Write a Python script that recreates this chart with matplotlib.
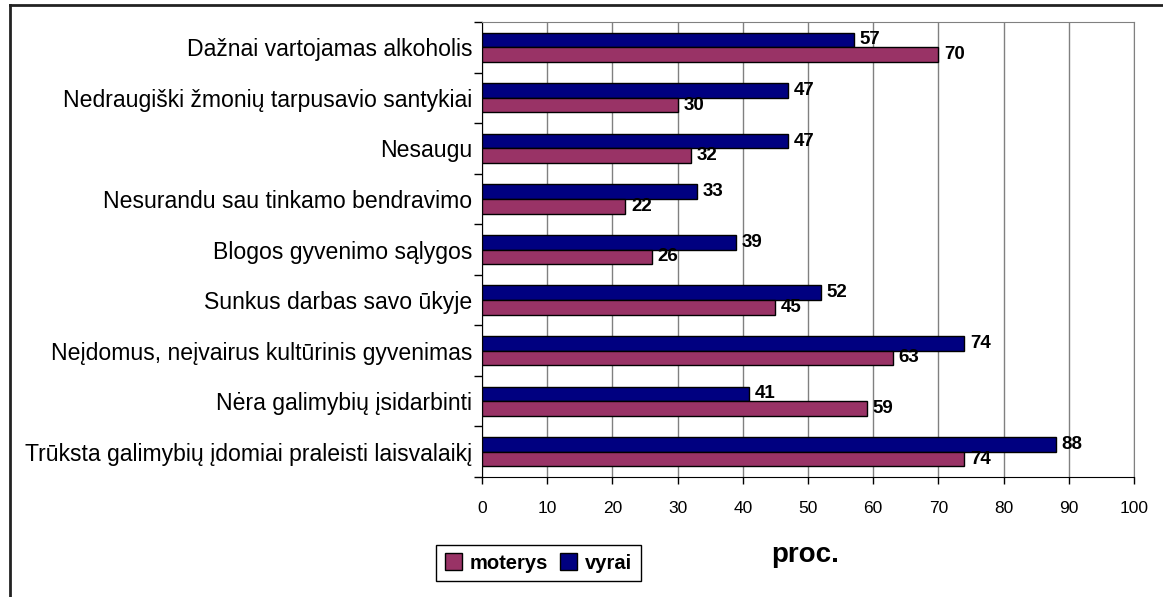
import numpy as np
import matplotlib
matplotlib.use("Agg")
import matplotlib.pyplot as plt
from matplotlib.lines import Line2D

categories = [
    "Dažnai vartojamas alkoholis",
    "Nedraugiški žmonių tarpusavio santykiai",
    "Nesaugu",
    "Nesurandu sau tinkamo bendravimo",
    "Blogos gyvenimo sąlygos",
    "Sunkus darbas savo ūkyje",
    "Neįdomus, neįvairus kultūrinis gyvenimas",
    "Nėra galimybių įsidarbinti",
    "Trūksta galimybių įdomiai praleisti laisvalaikį",
]
vyrai = [57, 47, 47, 33, 39, 52, 74, 41, 88]
moterys = [70, 30, 32, 22, 26, 45, 63, 59, 74]

plt.rcParams["font.family"] = ["Liberation Sans", "DejaVu Sans"]

fig = plt.figure(figsize=(11.63, 5.97), dpi=100)
ax = fig.add_axes([482 / 1163, 1 - 477 / 597, (1134 - 482) / 1163, (477 - 22) / 597])

y = np.arange(len(categories))
h = 0.29
b_v = ax.barh(y - h / 2, vyrai, height=h, color="#000080", edgecolor="black", linewidth=1, label="vyrai", zorder=3)
b_m = ax.barh(y + h / 2, moterys, height=h, color="#993366", edgecolor="black", linewidth=1, label="moterys", zorder=3)

ax.bar_label(b_v, fmt="%d", padding=4, fontsize=13.5, fontweight="bold")
ax.bar_label(b_m, fmt="%d", padding=4, fontsize=13.5, fontweight="bold")

ax.set_xlim(0, 100)
ax.set_ylim(len(categories) - 0.5, -0.5)
ax.set_xticks(np.arange(0, 101, 10))
ax.tick_params(axis="x", labelsize=12.5, length=5, width=1, color="black", pad=12)

# category labels centred, tick marks between categories
ax.set_yticks(y)
ax.set_yticklabels(categories, fontsize=16.6)
ax.tick_params(axis="y", which="major", length=0, pad=7)
ax.set_yticks(np.arange(-0.5, len(categories), 1), minor=True)
ax.tick_params(axis="y", which="minor", length=6, width=1, color="black")

ax.xaxis.grid(True, color="#808080", linewidth=1, zorder=0)
ax.set_axisbelow(True)
ax.spines["left"].set_color("black")
ax.spines["bottom"].set_color("black")
ax.spines["top"].set_color("#808080")
ax.spines["right"].set_color("#808080")

handles = [b_m, b_v]
leg = fig.legend(handles, ["moterys", "vyrai"], loc="center", bbox_to_anchor=(538.5 / 1163, 1 - 563 / 597),
                 ncol=2, fancybox=False, edgecolor="black", framealpha=1,
                 prop={"size": 14.5, "weight": "bold"},
                 handlelength=0.85, handleheight=0.85, handletextpad=0.4, columnspacing=0.6, borderpad=0.4)
leg.get_frame().set_linewidth(1)

fig.text(805 / 1163, 1 - 555 / 597, "proc.", fontsize=20, fontweight="bold", ha="center", va="center")

# outer chart frame
fig.add_artist(Line2D([10 / 1163, 10 / 1163], [0, 1 - 5 / 597], transform=fig.transFigure, color="#222222", linewidth=2))
fig.add_artist(Line2D([10 / 1163, 1], [1 - 5 / 597, 1 - 5 / 597], transform=fig.transFigure, color="#222222", linewidth=2))

plt.savefig("out.png", dpi=100)
